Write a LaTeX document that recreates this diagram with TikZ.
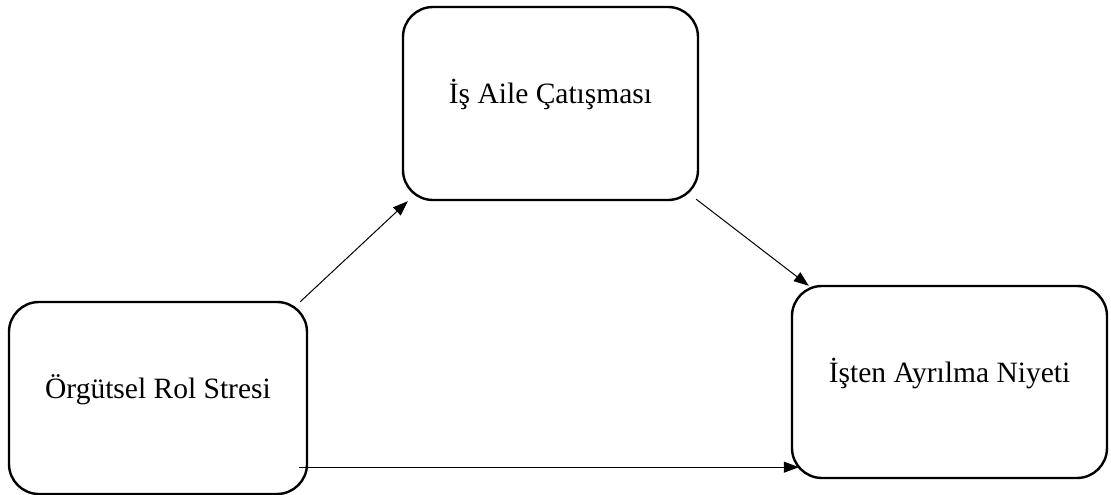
\documentclass[tikz,border=0pt]{standalone}
\usepackage{fontspec}
\setmainfont{Liberation Serif}
\usetikzlibrary{arrows.meta}
\begin{document}
\begin{tikzpicture}[x=1pt,y=-1pt,
  box/.style={draw,line width=2.4pt,rounded corners=30pt,rectangle,inner sep=0pt,
    text height=10pt,text depth=10pt,font=\fontsize{29.5}{34}\selectfont},
  arr/.style={line width=1pt,-{Triangle[length=15pt,width=11pt]}}]
\useasboundingbox (0,0) rectangle (1111,495);
\node[box,minimum width=298pt,minimum height=192pt] (l) at (158,398) {Örgütsel Rol Stresi};
\node[box,minimum width=295pt,minimum height=193pt] (t) at (550.5,103.5) {İş Aile Çatışması};
\node[box,minimum width=315pt,minimum height=192pt] (r) at (949.5,382) {İşten Ayrılma Niyeti};
\draw[arr] ([xshift=-8pt,yshift=-1pt]l.north east) -- ([xshift=6pt]t.south west);
\draw[arr] ([xshift=-3pt,yshift=2pt]t.south east) -- ([xshift=18pt,yshift=-1pt]r.north west);
\draw[arr] ([xshift=-9pt,yshift=28pt]l.south east) -- ([xshift=8pt,yshift=12pt]r.south west);
\end{tikzpicture}
\end{document}
